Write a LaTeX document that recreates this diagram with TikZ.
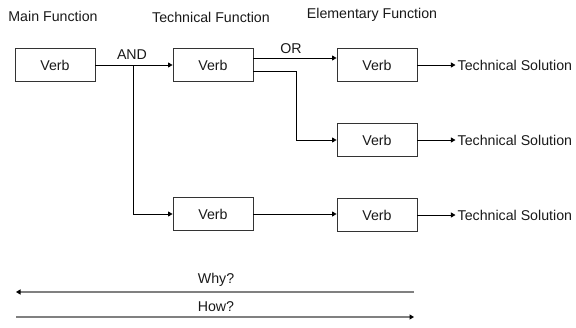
\documentclass[tikz,border=0pt]{standalone}
\usepackage{fontspec}
\setmainfont{Liberation Sans}
\usetikzlibrary{arrows.meta,positioning}
\tikzset{
  verbbox/.style={draw=black!80, line width=0.9pt, minimum width=80pt, minimum height=33pt, inner sep=0pt},
  link/.style={-{Triangle[length=4.5pt,width=5pt]}, line width=0.8pt},
  guide/.style={draw=black!50, line width=1.3pt, -{Triangle[length=4.5pt,width=5pt,color=black]}},
  soltext/.style={inner sep=2pt}
}
\begin{document}
\begin{tikzpicture}[x=1pt, y=-1pt, every node/.style={font=\fontsize{14.2}{16}\selectfont, text=black!90}]
            \useasboundingbox (0,0) rectangle (576,327);
            % headings
            \node (hmain) at (53, 16) {Main Function};
            \node (htech) at (211, 17) {Technical Function};
            \node (helem) at (372, 15) {Elementary Function};

            \node[verbbox] (main) at (55, 65) {Verb};
            \node[verbbox] (tecA) at (213, 65) {Verb};
            \node[verbbox] (tecB) at (213, 214) {Verb};
            \node[verbbox] (eleA) at (377, 65) {Verb};
            \node[verbbox] (eleB) at (377, 140) {Verb};
            \node[verbbox] (eleC) at (377, 215) {Verb};

            \node[soltext, right=38pt of eleA] (solA) {Technical Solution};
            \node[soltext, right=38pt of eleB] (solB) {Technical Solution};
            \node[soltext, right=38pt of eleC] (solC) {Technical Solution};

            \node (and) at (132, 55) {AND};
            \node (or) at (291, 49) {OR};

            % AND branch
            \coordinate (split) at (133, 65);
            \draw[link] (main) -- (tecA);
            \draw[link] (split) |- (tecB);
            \draw[link] (tecB) -- (tecB -| eleC.west);

            % OR branch
            \draw[link] ([yshift=7pt]tecA.east) -- ([yshift=7pt]eleA.west);
            \draw[link] ([yshift=-6pt]tecA.east) -- ++(43, 0) |- (eleB);

            \draw[link] (eleA) -- (solA);
            \draw[link] (eleB) -- (solB);
            \draw[link] (eleC) -- (solC);

            % why / how
            \node (why) at (216, 280) {Why?};
            \node (how) at (216, 307) {How?};
            \coordinate (whyR) at (414, 292);
            \coordinate (whyL) at (16, 292);
            \coordinate (howL) at (16, 317);
            \coordinate (howR) at (414, 317);
            \draw[guide] (whyR) -- (whyL);
            \draw[guide] (howL) -- (howR);
\end{tikzpicture}
\end{document}
